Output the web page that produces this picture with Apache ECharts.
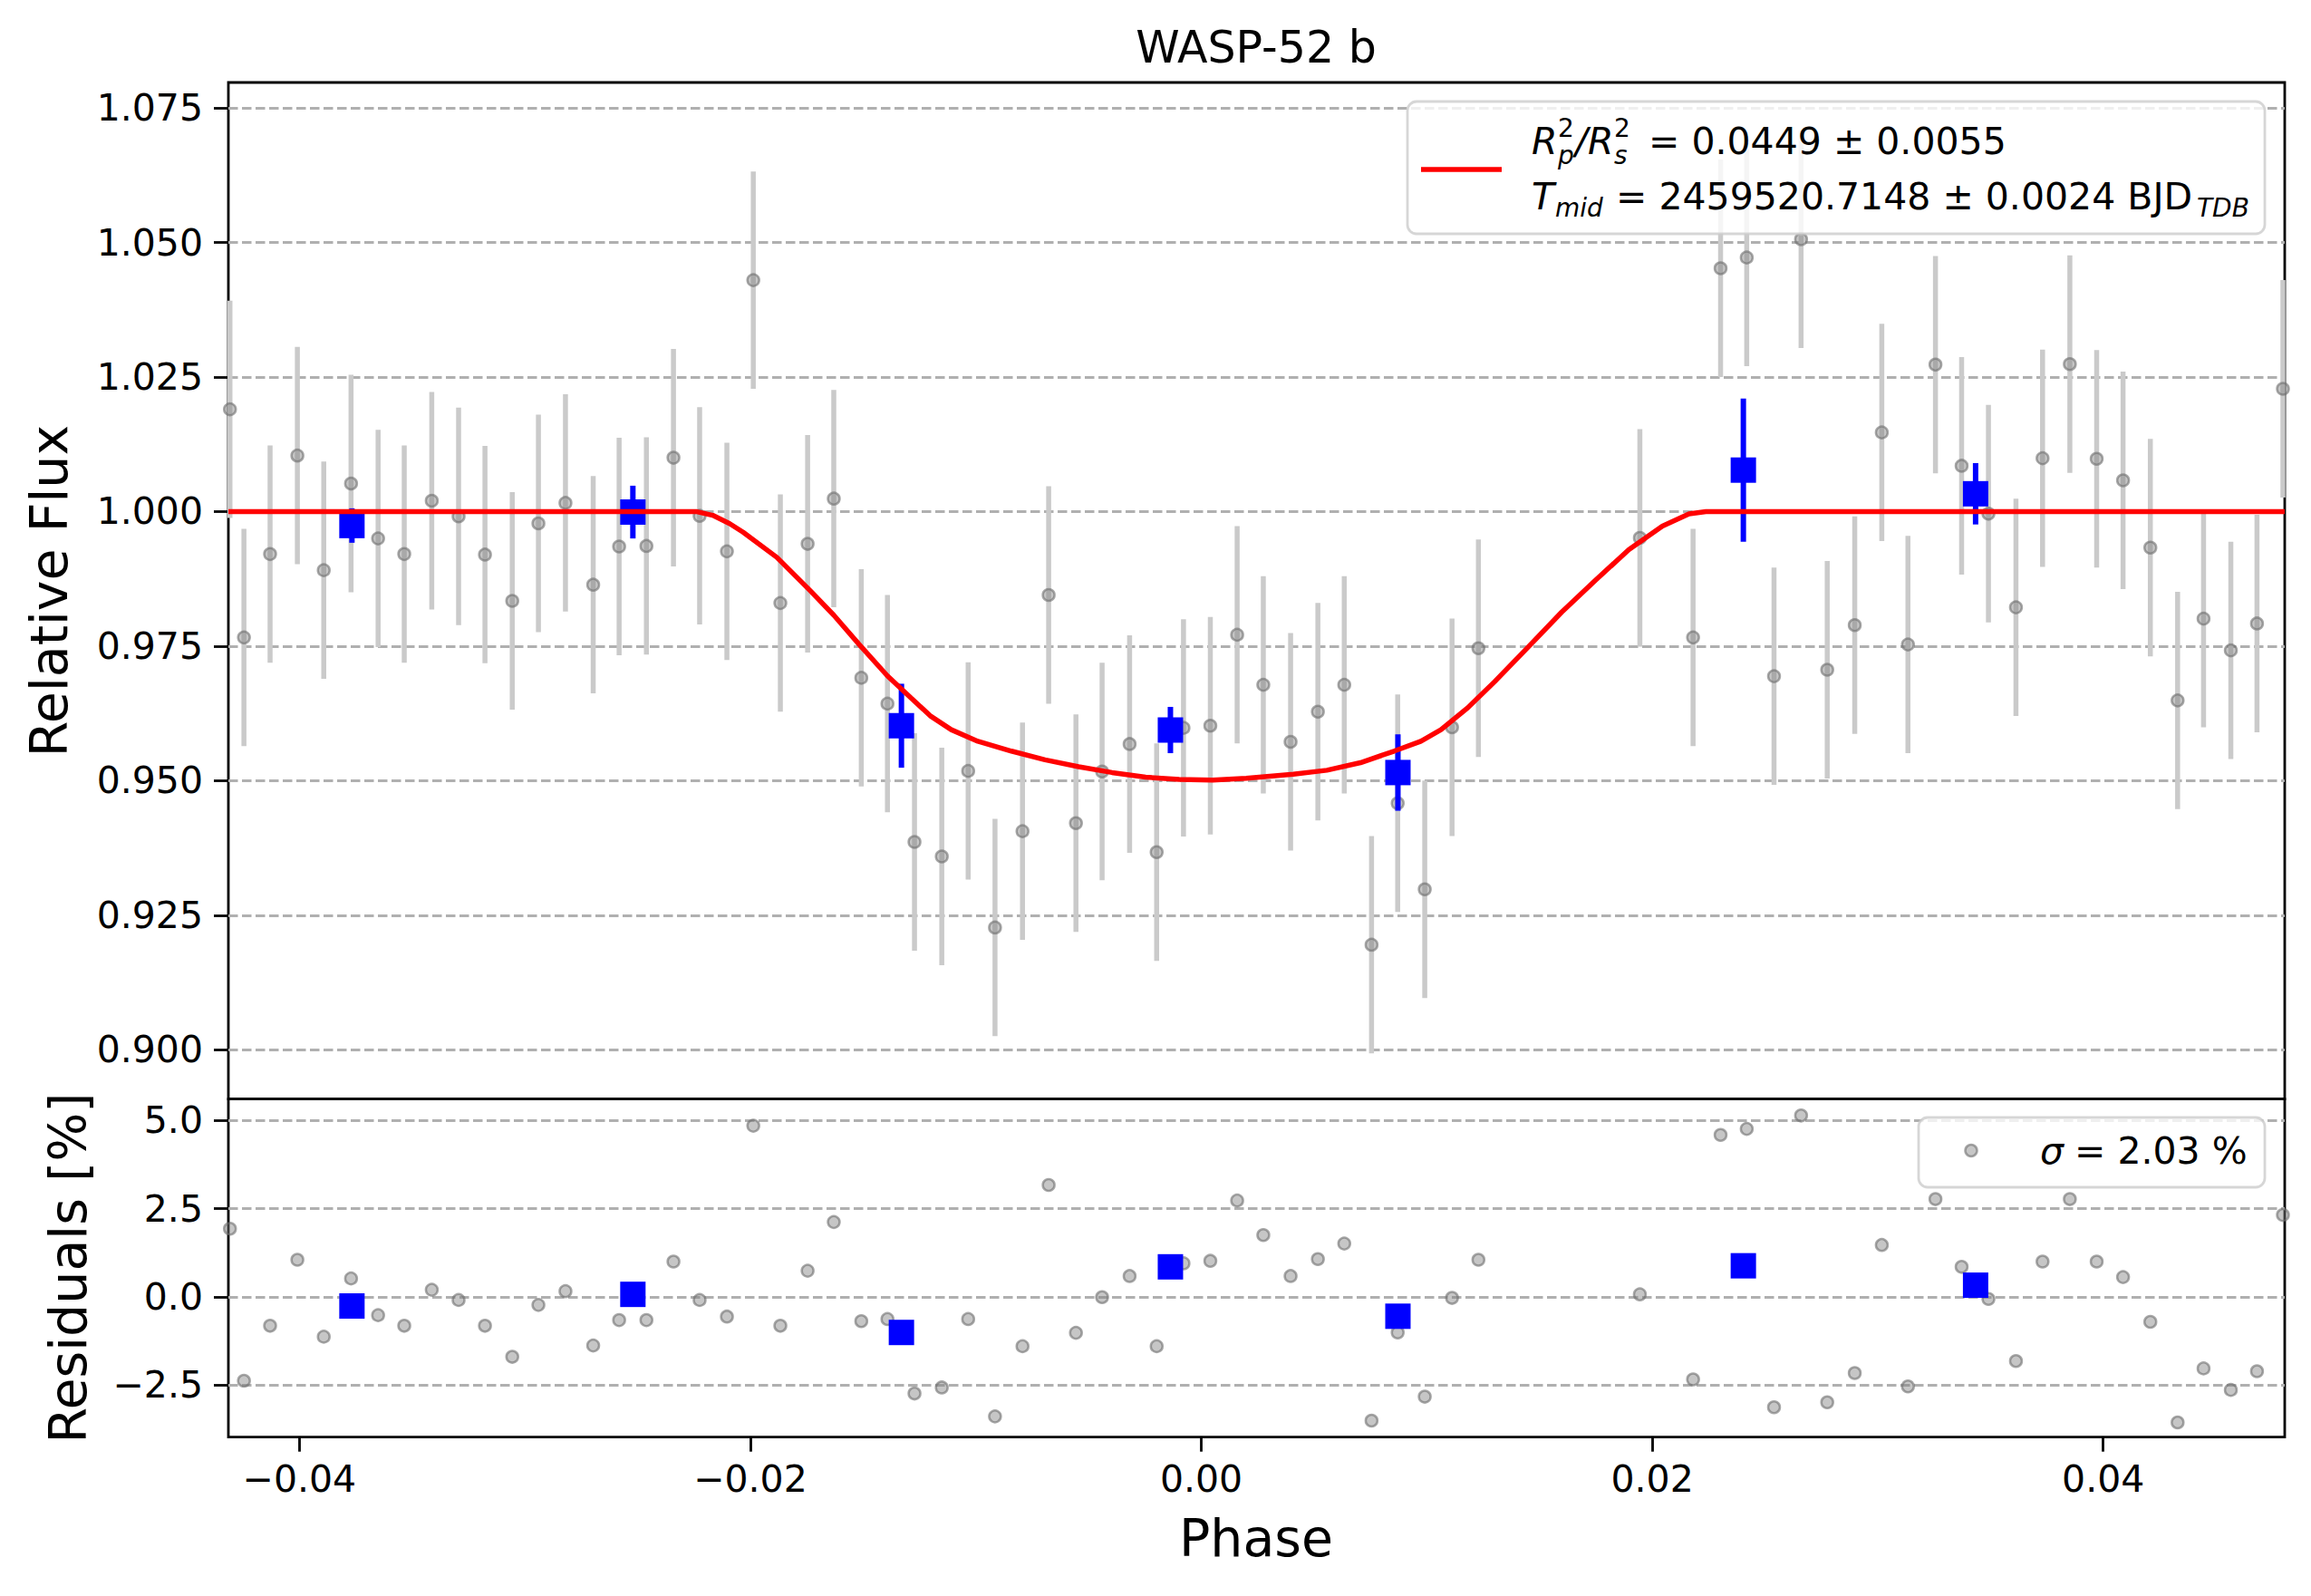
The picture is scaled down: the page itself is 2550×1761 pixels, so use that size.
<html style="height: 100%">
	<head>
		<meta charset="utf-8">
	</head>
	<body style="height: 100%; width: 100%; margin: 0; background: #fff">
		<div id="container" style="height: 100%; width: 100%;"></div>
		<script type="text/javascript" src="https://cdn.jsdelivr.net/npm/echarts@6/dist/echarts.min.js"></script>
		<script type="text/javascript">
			// unbinned points (phase, relative flux, residual in %)
			var greyPhase = [-0.04308, -0.04246, -0.04130, -0.04009, -0.03892, -0.03771, -0.03651, -0.03535, -0.03413, -0.03294,
				-0.03177, -0.03056, -0.02940, -0.02820, -0.02697, -0.02582, -0.02461, -0.02341, -0.02225, -0.02104,
				-0.01987, -0.01867, -0.01746, -0.01630, -0.01508, -0.01392, -0.01272, -0.01151, -0.01034, -0.00915,
				-0.00793, -0.00677, -0.00556, -0.00440, -0.00318, -0.00198, -0.00079, 0.00040, 0.00159, 0.00275,
				0.00396, 0.00517, 0.00634, 0.00755, 0.00871, 0.00991, 0.01112, 0.01229, 0.01945, 0.02181,
				0.02303, 0.02419, 0.02540, 0.02660, 0.02776, 0.02898, 0.03018, 0.03134, 0.03256, 0.03372,
				0.03491, 0.03613, 0.03731, 0.03852, 0.03971, 0.04088, 0.04209, 0.04330, 0.04445, 0.04566,
				0.04682, 0.04797];
			var greyFlux = [1.0190, 0.9766, 0.9921, 1.0104, 0.9891, 1.0052, 0.9950, 0.9921, 1.0020, 0.9991,
				0.9920, 0.9834, 0.9978, 1.0016, 0.9864, 0.9935, 0.9936, 1.0100, 0.9992, 0.9926,
				1.0430, 0.9830, 0.9940, 1.0024, 0.9691, 0.9643, 0.9386, 0.9359, 0.9518, 0.9227,
				0.9406, 0.9845, 0.9421, 0.9517, 0.9568, 0.9367, 0.9598, 0.9602, 0.9771, 0.9678,
				0.9572, 0.9628, 0.9678, 0.9195, 0.9458, 0.9298, 0.9599, 0.9746, 0.9951, 0.9766,
				1.0452, 1.0472, 0.9694, 1.0506, 0.9706, 0.9789, 1.0147, 0.9753, 1.0273, 1.0085,
				0.9996, 0.9822, 1.0099, 1.0274, 1.0098, 1.0058, 0.9933, 0.9649, 0.9801, 0.9742,
				0.9792, 1.0228];
			// every grey error bar reads the same half-length
			var greyErr = 0.0202;
			var greyResid = [1.93, -2.38, -0.82, 1.05, -1.13, 0.52, -0.52, -0.82, 0.20, -0.09,
				-0.82, -1.70, -0.23, 0.16, -1.38, -0.66, -0.66, 1.00, -0.09, -0.56,
				4.85, -0.82, 0.74, 2.12, -0.69, -0.63, -2.74, -2.57, -0.63, -3.39,
				-1.40, 3.17, -1.02, -0.01, 0.59, -1.40, 0.95, 1.02, 2.73, 1.75,
				0.59, 1.07, 1.51, -3.51, -1.01, -2.83, -0.03, 1.05, 0.07, -2.34,
				4.59, 4.76, -3.13, 5.14, -2.99, -2.16, 1.47, -2.54, 2.77, 0.85,
				-0.06, -1.82, 1.00, 2.77, 1.00, 0.56, -0.71, -3.56, -2.03, -2.64,
				-2.11, 2.32];

			// binned points
			var binPhase = [-0.03767, -0.02521, -0.01330, -0.00137, 0.00872, 0.02404, 0.03434];
			var binFlux = [0.9974, 0.9999, 0.9602, 0.9594, 0.9515, 1.0077, 1.0033];
			var binErr = [0.0032, 0.0049, 0.0078, 0.0043, 0.0071, 0.0133, 0.0057];
			var binResid = [-0.26, 0.07, -1.01, 0.85, -0.55, 0.88, 0.33];

			// transit model curve
			var modelPhase = [-0.04315, -0.02241, -0.02167, -0.02092, -0.02032, -0.01883, -0.01734, -0.01630, -0.01519, -0.01392,
				-0.01288, -0.01199, -0.01109, -0.00991, -0.00842, -0.00693, -0.00544, -0.00396, -0.00247, -0.00098,
				0.00050, 0.00199, 0.00408, 0.00557, 0.00706, 0.00855, 0.00974, 0.01063, 0.01182, 0.01301,
				0.01450, 0.01598, 0.01747, 0.01896, 0.02045, 0.02163, 0.02238, 0.04805];
			var modelFlux = [1.0, 1.0, 0.99930, 0.99775, 0.99615, 0.99151, 0.98527, 0.98075, 0.97538, 0.96946,
				0.96538, 0.96194, 0.95946, 0.95731, 0.95548, 0.95387, 0.95258, 0.95150, 0.95064, 0.95021,
				0.95011, 0.95043, 0.95118, 0.95193, 0.95333, 0.95548, 0.95731, 0.95946, 0.96355, 0.96839,
				0.97484, 0.98129, 0.98720, 0.99290, 0.99731, 0.99957, 1.0, 1.0];

			var phaseTicks = [-0.04, -0.02, 0, 0.02, 0.04];
			var fluxTicks = [0.9, 0.925, 0.95, 0.975, 1.0, 1.025, 1.05, 1.075];
			var residTicks = [-2.5, 0, 2.5, 5];

			var FONT = 'DejaVu Sans';
			var dom = document.getElementById("container");
			var myChart = echarts.init(dom, null, { renderer: 'svg' });

			function fmt(d) {
				return function(v) {
					return v.toFixed(d).replace('-', '\u2212');
				};
			}

			function pairs(xs, ys) {
				var out = [];
				for (var i = 0; i < xs.length; i++) out.push([xs[i], ys[i]]);
				return out;
			}

			var greyBars = [];
			for (var i = 0; i < greyPhase.length; i++) greyBars.push([greyPhase[i], greyFlux[i], greyErr]);
			var binBars = [];
			for (var i = 0; i < binPhase.length; i++) binBars.push([binPhase[i], binFlux[i], binErr[i]]);

			function errBar(color, width) {
				return function(params, api) {
					var x = api.value(0), y = api.value(1), e = api.value(2);
					var a = api.coord([x, y + e]);
					var b = api.coord([x, y - e]);
					return {
						type: 'line',
						shape: { x1: a[0], y1: a[1], x2: b[0], y2: b[1] },
						style: { stroke: color, lineWidth: width }
					};
				};
			}

			var gridLine = { show: true, lineStyle: { color: '#b0b0b0', width: 2.8, type: [10.5, 4.5] } };
			var tickStyle = { color: '#000', width: 2.8 };
			var labelStyle = { color: '#000', fontSize: 41, fontFamily: FONT };
			var greyItem = { color: 'rgba(128,128,128,0.45)', borderColor: 'rgba(110,110,110,0.6)', borderWidth: 2.5, opacity: 1 };
			var noLine = { show: false, onZero: false };

			function txt(x, y, s, size, italic) {
				return { type: 'text', x: x, y: y, z: 21, style: { text: s, fontSize: size, fontStyle: italic ? 'italic' : 'normal', fontFamily: FONT, fill: '#000', verticalAlign: 'middle' } };
			}

			var option = {
				animation: false,
				backgroundColor: '#fff',
				grid: [
					{ left: 252, top: 91, width: 2269, height: 1121.6, show: true, borderColor: '#000', borderWidth: 2.8, containLabel: false, outerBoundsMode: 'none' },
					{ left: 252, top: 1212.6, width: 2269, height: 373.1, show: true, borderColor: '#000', borderWidth: 2.8, containLabel: false, outerBoundsMode: 'none' }
				],
				xAxis: [{
					gridIndex: 0, type: 'value', min: -0.04315, max: 0.04805,
					axisLine: noLine, axisTick: { show: false }, axisLabel: { show: false }, splitLine: { show: false }
				}, {
					gridIndex: 1, type: 'value', position: 'bottom', min: -0.04315, max: 0.04805,
					axisLine: noLine,
					axisTick: { show: true, inside: false, length: 16, lineStyle: tickStyle, customValues: phaseTicks },
					axisLabel: Object.assign({ show: true, margin: 26, formatter: fmt(2), customValues: phaseTicks }, labelStyle),
					splitLine: { show: false }
				}],
				yAxis: [{
					gridIndex: 0, type: 'value', position: 'left', min: 0.89084, max: 1.07973,
					axisLine: noLine,
					axisTick: { show: true, inside: false, length: 16, lineStyle: tickStyle, customValues: fluxTicks },
					axisLabel: Object.assign({ show: true, margin: 28, formatter: fmt(3), customValues: fluxTicks }, labelStyle),
					splitLine: gridLine
				}, {
					gridIndex: 1, type: 'value', position: 'left', min: -3.977, max: 5.608,
					axisLine: noLine,
					axisTick: { show: true, inside: false, length: 16, lineStyle: tickStyle, customValues: residTicks },
					axisLabel: Object.assign({ show: true, margin: 28, formatter: fmt(1), customValues: residTicks }, labelStyle),
					splitLine: gridLine
				}],
				series: [{
					type: 'custom', xAxisIndex: 0, yAxisIndex: 0, z: 1, silent: true,
					encode: { x: 0, y: 1 },
					data: greyBars,
					renderItem: errBar('#cacaca', 5.5)
				}, {
					type: 'scatter', xAxisIndex: 0, yAxisIndex: 0, z: 2, silent: true,
					symbol: 'circle', symbolSize: 13,
					itemStyle: greyItem,
					data: pairs(greyPhase, greyFlux)
				}, {
					type: 'custom', xAxisIndex: 0, yAxisIndex: 0, z: 3, silent: true,
					encode: { x: 0, y: 1 },
					data: binBars,
					renderItem: errBar('#0000ff', 6)
				}, {
					type: 'scatter', xAxisIndex: 0, yAxisIndex: 0, z: 4, silent: true,
					symbol: 'rect', symbolSize: 28,
					itemStyle: { color: '#0000ff', opacity: 1 },
					data: pairs(binPhase, binFlux)
				}, {
					type: 'line', xAxisIndex: 0, yAxisIndex: 0, z: 5, silent: true,
					showSymbol: false, smooth: false,
					lineStyle: { color: '#ff0000', width: 5.5 },
					data: pairs(modelPhase, modelFlux)
				}, {
					type: 'scatter', xAxisIndex: 1, yAxisIndex: 1, z: 2, silent: true,
					symbol: 'circle', symbolSize: 13,
					itemStyle: greyItem,
					data: pairs(greyPhase, greyResid)
				}, {
					type: 'scatter', xAxisIndex: 1, yAxisIndex: 1, z: 4, silent: true,
					symbol: 'rect', symbolSize: 28,
					itemStyle: { color: '#0000ff', opacity: 1 },
					data: pairs(binPhase, binResid)
				}],
				graphic: { elements: [
					// title and axis names
					{ type: 'text', x: 1386, y: 52, z: 20, style: { text: 'WASP-52 b', fontSize: 49, fontFamily: FONT, fill: '#000', align: 'center', verticalAlign: 'middle' } },
					{ type: 'text', x: 1386, y: 1697, z: 20, style: { text: 'Phase', fontSize: 57, fontFamily: FONT, fill: '#000', align: 'center', verticalAlign: 'middle' } },
					{ type: 'text', x: 54, y: 652, rotation: Math.PI / 2, z: 20, style: { text: 'Relative Flux', fontSize: 57, fontFamily: FONT, fill: '#000', align: 'center', verticalAlign: 'middle' } },
					{ type: 'text', x: 75, y: 1399, rotation: Math.PI / 2, z: 20, style: { text: 'Residuals [%]', fontSize: 57, fontFamily: FONT, fill: '#000', align: 'center', verticalAlign: 'middle' } },

					// model legend
					{ type: 'rect', z: 20, shape: { x: 1553, y: 112, width: 946, height: 146, r: 10 }, style: { fill: 'rgba(255,255,255,0.8)', stroke: 'rgba(204,204,204,0.8)', lineWidth: 2.8 } },
					{ type: 'line', z: 21, shape: { x1: 1568, y1: 187, x2: 1657, y2: 187 }, style: { stroke: '#ff0000', lineWidth: 5.5 } },
					txt(1690, 155.5, 'R', 41, true),
					txt(1719, 141.5, '2', 28, false),
					txt(1719, 171.5, 'p', 28, true),
					txt(1738, 155.5, '/', 41, true),
					txt(1752, 155.5, 'R', 41, true),
					txt(1781, 141.5, '2', 28, false),
					txt(1781, 171.5, 's', 28, true),
					txt(1819, 155.5, '= 0.0449 \u00b1 0.0055', 41, false),
					txt(1690, 217, 'T', 41, true),
					txt(1716, 229, 'mid', 28, true),
					txt(1783, 217, '= 2459520.7148 \u00b1 0.0024 BJD', 41, false),
					txt(2424, 229, 'TDB', 28, true),

					// residual legend
					{ type: 'rect', z: 20, shape: { x: 2117, y: 1233, width: 382, height: 77, r: 10 }, style: { fill: 'rgba(255,255,255,0.8)', stroke: 'rgba(204,204,204,0.8)', lineWidth: 2.8 } },
					{ type: 'circle', z: 21, shape: { cx: 2175, cy: 1269.5, r: 6.5 }, style: { fill: 'rgba(128,128,128,0.45)', stroke: 'rgba(110,110,110,0.6)', lineWidth: 2.5 } },
					txt(2251, 1270, '\u03c3', 41, true),
					txt(2276, 1270, ' = 2.03 %', 41, false)
				] }
			};

			if (option && typeof option === 'object') {
				myChart.setOption(option);
			}
		</script>
	</body>
</html>
